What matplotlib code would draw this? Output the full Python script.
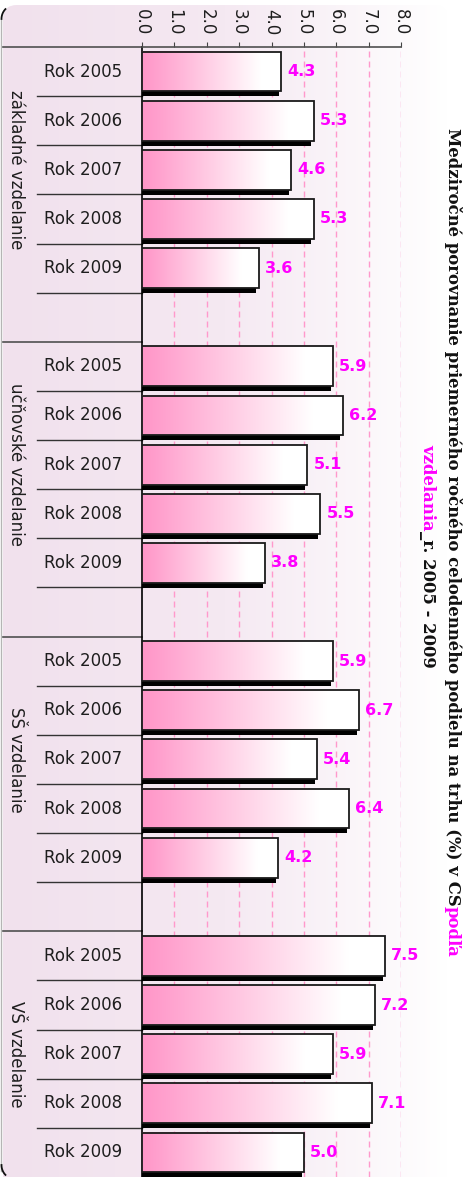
import numpy as np
import matplotlib
matplotlib.use("Agg")
import matplotlib.pyplot as plt
from matplotlib.colors import LinearSegmentedColormap
from matplotlib.patches import Rectangle, FancyBboxPatch

# ---- data -------------------------------------------------------------
groups = ["základné vzdelanie", "učňovské vzdelanie", "SŠ vzdelanie", "VŠ vzdelanie"]
years = ["Rok 2005", "Rok 2006", "Rok 2007", "Rok 2008", "Rok 2009"]
zakladne = [4.3, 5.3, 4.6, 5.3, 3.6]
ucnovske = [5.9, 6.2, 5.1, 5.5, 3.8]
stredoskolske = [5.9, 6.7, 5.4, 6.4, 4.2]
vysokoskolske = [7.5, 7.2, 5.9, 7.1, 5.0]
series = [zakladne, ucnovske, stredoskolske, vysokoskolske]
x_ticks = [0, 1, 2, 3, 4, 5, 6, 7, 8]

title_main = "Medziročné porovnanie priemerného ročného celodenného podielu na trhu (%) v CS"
title_pink1 = "podľa"
title_pink2 = "vzdelania"
title_tail = "_r. 2005 - 2009"

# ---- layout (pixels) --------------------------------------------------
W, H = 477, 1177
AX_L, AX_R, AX_T = 142, 401, 47
n_rows = len(groups) * (len(years) + 1) - 1
row_h = (H - AX_T) / n_rows

fig = plt.figure(figsize=(W / 100, H / 100), dpi=100)
fig.patch.set_facecolor("white")

# background layer in pixel coordinates
bg = fig.add_axes([0, 0, 1, 1], zorder=-10)
bg.set_xlim(0, W)
bg.set_ylim(H, 0)
bg.axis("off")

panel = FancyBboxPatch((3, 5), 445, H + 10, boxstyle="round,pad=0,rounding_size=14",
                       facecolor="none", edgecolor="none", transform=bg.transData)
bg.add_patch(panel)
bg_cmap = LinearSegmentedColormap.from_list("bg", ["#f1e1ed", "#f5e9f2", "#ffffff"])
grad = np.linspace(0, 1, 256).reshape(1, -1)
im = bg.imshow(grad, cmap=bg_cmap, extent=(3, 448, H + 15, 5), aspect="auto",
               interpolation="bilinear", zorder=0)
im.set_clip_path(panel)

# thin left border with darker rounded corners
bg.plot([1.5, 1.5], [20, H - 6], color="#b5b5b5", lw=1.0, zorder=1)
t = np.linspace(np.pi, 1.25 * np.pi, 20)
bg.plot(15 + 13.5 * np.cos(t), 19 + 14 * np.sin(t), color="#111111", lw=1.3, zorder=1)
t = np.linspace(0.75 * np.pi, np.pi, 20)
bg.plot(15 + 13.5 * np.cos(t), H - 12 + 14 * np.sin(t), color="#111111", lw=1.3, zorder=1)

# left category panel: separators and labels
def row_top(k):
    return AX_T + k * row_h

for g, name in enumerate(groups):
    r0 = g * (len(years) + 1)
    bg.plot([3, AX_L], [row_top(r0)] * 2, color="#505050", lw=1.2, zorder=2)
    for k in range(1, len(years) + 1):
        if row_top(r0 + k) < H - 1:
            bg.plot([37, AX_L], [row_top(r0 + k)] * 2, color="#333333", lw=1.0, zorder=2)
    for i, yr in enumerate(years):
        bg.text(83, row_top(r0 + i) + row_h / 2, yr, ha="center", va="center",
                fontsize=12, color="#1e1e1e", zorder=3)
    bg.text(16, row_top(r0) + 2.5 * row_h, name, rotation=-90, ha="center", va="center",
            fontsize=12, color="#1e1e1e", zorder=3)

# ---- main bar axes ----------------------------------------------------
ax = fig.add_axes([AX_L / W, 0, (AX_R - AX_L) / W, (H - AX_T) / H])
ax.set_facecolor("none")

bar_cmap = LinearSegmentedColormap.from_list(
    "bar", [(0.0, "#ff96c8"), (0.12, "#ffa3cf"), (0.45, "#ffcce4"), (0.85, "#ffffff"), (1.0, "#ffffff")])
bar_h = 0.81
shadow_dy = 5 / row_h

for g, vals in enumerate(series):
    r0 = g * (len(years) + 1)
    for i, v in enumerate(vals):
        y = r0 + i
        ax.add_patch(Rectangle((0, y - bar_h / 2 + shadow_dy), v - 0.07, bar_h,
                               facecolor="black", edgecolor="none", zorder=2))
        ax.imshow(grad, cmap=bar_cmap, extent=(0, v, y + bar_h / 2, y - bar_h / 2),
                  aspect="auto", interpolation="bilinear", zorder=3)
        ax.add_patch(Rectangle((0, y - bar_h / 2), v, bar_h, facecolor="none",
                               edgecolor="#1a1a1a", lw=1.3, zorder=4))
        ax.annotate(f"{v:.1f}", (v, y), xytext=(4.5, 0), textcoords="offset points",
                    ha="left", va="center", color="#ff00ff", fontweight="bold",
                    fontsize=11.5, zorder=5)

for xv in x_ticks[1:]:
    ax.axvline(xv, color="#ff99cc", lw=1.0, ls=(0, (4.3, 2.9)), zorder=1)

ax.set_xlim(x_ticks[0], x_ticks[-1])
ax.set_ylim(n_rows - 0.5, -0.5)
ax.xaxis.tick_top()
ax.set_xticks(x_ticks)
ax.set_xticklabels([f"{v:.1f}" for v in x_ticks])
ax.tick_params(axis="x", labelrotation=-90, labelsize=12, pad=5, length=3.5,
               color="#444444", labelcolor="#1e1e1e")
ax.set_yticks([])
for side in ("right", "bottom"):
    ax.spines[side].set_visible(False)
ax.spines["left"].set_color("black")
ax.spines["left"].set_linewidth(1.2)
ax.spines["top"].set_color("#505050")
ax.spines["top"].set_linewidth(1.2)

# ---- rotated title ----------------------------------------------------
tfont = dict(family="DejaVu Serif", weight="bold")
fig.canvas.draw()
renderer = fig.canvas.get_renderer()
inv = bg.transData.inverted()

def span(txt):
    bb = txt.get_window_extent(renderer)
    (x0, y0), (x1, y1) = inv.transform([[bb.x0, bb.y0], [bb.x1, bb.y1]])
    return min(y0, y1), max(y0, y1)

probe = bg.text(0, 0, title_main + title_pink1, rotation=-90, fontsize=10, **tfont)
a, b = span(probe)
probe.remove()
fs = 10 * 835 / (b - a)

def put_line(x, y_start, parts):
    y = y_start
    for s, col in parts:
        t = bg.text(x, y, s, rotation=-90, rotation_mode="anchor", ha="left",
                    va="baseline", fontsize=fs, color=col, zorder=5, **tfont)
        fig.canvas.draw()
        y = span(t)[1]
    return y

put_line(448, 128, [(title_main, "#111111"), (title_pink1, "#ff00ff")])

probe = bg.text(0, 0, title_pink2 + title_tail, rotation=-90, fontsize=fs, **tfont)
a, b = span(probe)
probe.remove()
put_line(423, 556 - (b - a) / 2, [(title_pink2, "#ff00ff"), (title_tail, "#111111")])

fig.savefig("out.png", dpi=100, facecolor=fig.get_facecolor())
